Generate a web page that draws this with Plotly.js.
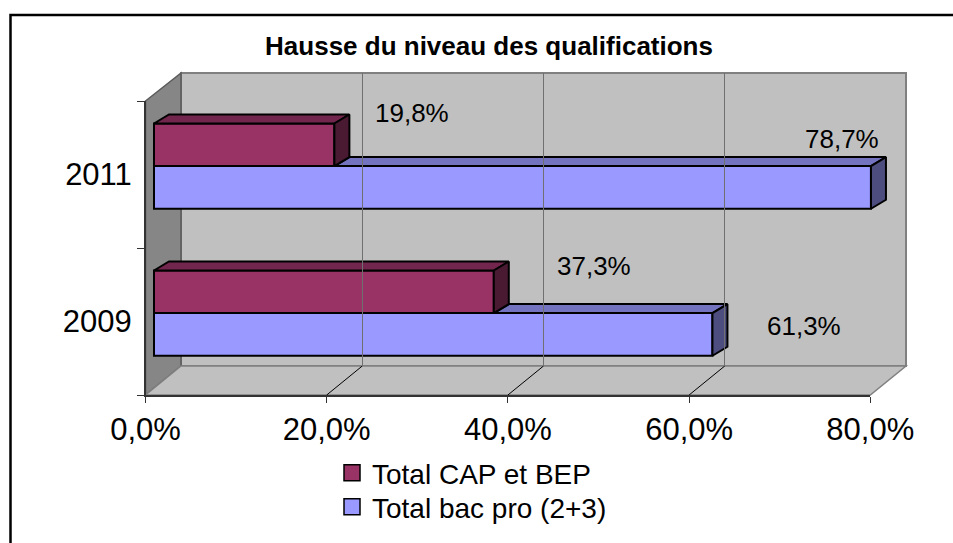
<!DOCTYPE html>
<html>
<head>
<meta charset="utf-8">
<script src="https://cdn.plot.ly/plotly-3.0.1.min.js"></script>
<style>html,body{margin:0;padding:0;background:#fff;}#chart{width:953px;height:543px;}</style>
</head>
<body>
<div id="chart"></div>
<script>
// ---- data ----
const years = ['2011', '2009'];
const capBep = [19.8, 37.3];
const bacPro = [78.7, 61.3];
const seriesNames = ['Total CAP et BEP', 'Total bac pro (2+3)'];
const xTicks = [0, 20, 40, 60, 80];
const chartTitle = 'Hausse du niveau des qualifications';

// ---- layout constants (pixels) ----
const W = 953, H = 543;
const px = v => v / W;
const py = v => 1 - v / H;
const FONT = 'Liberation Sans, Arial, sans-serif';
const barZeroPx = 154, barScale = 9.11;      // bar plane
const frontL = 145.5, frontR = 870.3, frontB = 395, frontT = 101;
const backL = 181, backR = 906, backB = 366, backT = 73;
const catPx = (frontB - frontT) / 2;          // px per category
const bw = 0.29, offCap = -0.347, offBac = offCap + bw;
const dx = 15 / barScale, dy = -9 / catPx;    // depth of bars in axis units
const colCap = '#993366', colCapTop = '#73264d', colCapSide = '#4a1a33';
const colBac = '#9999ff', colBacTop = '#7373bf', colBacSide = '#4d4d80';
const labelPos = [[[411.5, 113.5], [593.7, 266]], [[842, 139], [804, 326]]];
const legendPos = [[332, 473], [332, 507]];

const fmt = v => v.toFixed(1).replace('.', ',') + '%';
const idx = years.map((_, i) => i);

const traces = [];
// bars (front faces)
traces.push({type: 'bar', orientation: 'h', x: capBep, y: idx, base: 0, width: bw, offset: offCap,
  marker: {color: colCap, line: {color: '#000', width: 2}}, xaxis: 'x', yaxis: 'y2',
  showlegend: false, hoverinfo: 'skip'});
traces.push({type: 'bar', orientation: 'h', x: bacPro, y: idx, base: 0, width: bw, offset: offBac,
  marker: {color: colBac, line: {color: '#000', width: 2}}, xaxis: 'x', yaxis: 'y2',
  showlegend: false, hoverinfo: 'skip'});

function poly(xs, ys, fill) {
  traces.push({type: 'scatter', mode: 'lines', x: xs.concat([xs[0]]), y: ys.concat([ys[0]]),
    fill: 'toself', fillcolor: fill, line: {color: '#000', width: 2},
    xaxis: 'x', yaxis: 'y2', showlegend: false, hoverinfo: 'skip'});
}
idx.forEach(g => {
  const c = capBep[g], b = bacPro[g];
  const tC = g + offCap, tB = g + offBac;
  poly([c, c + dx, b + dx, b], [tB, tB + dy, tB + dy, tB], colBacTop);          // bac top (visible part)
  poly([b, b + dx, b + dx, b], [tB, tB + dy, tB + bw + dy, tB + bw], colBacSide); // bac side
  poly([0, dx, c + dx, c], [tC, tC + dy, tC + dy, tC], colCapTop);              // cap top
  poly([c, c + dx, c + dx, c], [tC, tC + dy, tB + dy, tB], colCapSide);         // cap side
});

// legend entries (one legend per entry to control spacing)
[[seriesNames[0], colCap, 'legend'], [seriesNames[1], colBac, 'legend2']].forEach(([n, col, lg]) => {
  traces.push({type: 'scatter', mode: 'markers', x: [null], y: [null], name: n, legend: lg,
    marker: {symbol: 'square', size: 16, color: col, line: {color: '#000', width: 1.5}},
    xaxis: 'x', yaxis: 'y2', hoverinfo: 'skip'});
});
// anchors for axis-only subplots
traces.push({type: 'scatter', x: [], y: [], xaxis: 'x2', yaxis: 'y2', showlegend: false, hoverinfo: 'skip'});
traces.push({type: 'scatter', x: [], y: [], xaxis: 'x3', yaxis: 'y3', showlegend: false, hoverinfo: 'skip'});

const pth = pts => 'M' + pts.map(p => px(p[0]) + ',' + py(p[1])).join(' L') + ' Z';
const shapes = [];
shapes.push({type: 'rect', xref: 'paper', yref: 'paper', layer: 'below',
  x0: px(backL), x1: px(backR), y0: py(backB), y1: py(backT),
  fillcolor: '#c0c0c0', line: {color: '#808080', width: 2}});
shapes.push({type: 'path', xref: 'paper', yref: 'paper', layer: 'below',
  path: pth([[frontL, frontT], [backL, backT], [backL, backB], [frontL, frontB]]),
  fillcolor: '#868686', line: {color: '#5a5a5a', width: 1.5}});
shapes.push({type: 'path', xref: 'paper', yref: 'paper', layer: 'below',
  path: pth([[frontL, frontB], [frontR, frontB], [backR, backB], [backL, backB]]),
  fillcolor: '#c0c0c0', line: {color: '#808080', width: 1.5}});
const fScale = (frontR - frontL) / 80, bScale = (backR - backL) / 80;
xTicks.slice(1, -1).forEach(v => {
  shapes.push({type: 'line', xref: 'paper', yref: 'paper', layer: 'below',
    x0: px(frontL + fScale * v), y0: py(frontB), x1: px(backL + bScale * v), y1: py(backB),
    line: {color: '#000', width: 1}});
});
shapes.push({type: 'rect', xref: 'paper', yref: 'paper', layer: 'above',
  x0: px(10.5), y0: py(15), x1: 1.05, y1: -0.05, line: {color: '#000', width: 2.5}});

const annotations = [];
[capBep, bacPro].forEach((arr, s) => arr.forEach((v, g) => {
  annotations.push({xref: 'paper', yref: 'paper', x: px(labelPos[s][g][0]), y: py(labelPos[s][g][1]),
    xanchor: 'center', yanchor: 'middle', text: fmt(v), showarrow: false,
    font: {family: FONT, size: 26, color: '#000'}});
}));

const legendStyle = i => ({x: px(legendPos[i][0]), y: py(legendPos[i][1]), xanchor: 'left', yanchor: 'middle',
  bgcolor: 'rgba(0,0,0,0)', font: {family: FONT, size: 28, color: '#000'}, itemsizing: 'trace'});

const layout = {
  width: W, height: H,
  margin: {l: 0, r: 0, t: 0, b: 0, pad: 0},
  paper_bgcolor: '#fff', plot_bgcolor: 'rgba(0,0,0,0)',
  font: {family: FONT, color: '#000'},
  title: {text: chartTitle, font: {family: FONT, size: 26, color: '#000', weight: 'bold'},
    x: px(489), y: py(46), xanchor: 'center', yanchor: 'middle', xref: 'paper', yref: 'paper'},
  barmode: 'overlay',
  showlegend: true,
  legend: legendStyle(0),
  legend2: legendStyle(1),
  xaxis: {domain: [0, 1], range: [-barZeroPx / barScale, (W - barZeroPx) / barScale], anchor: 'y2',
    visible: false, fixedrange: true},
  xaxis2: {domain: [px(frontL), px(frontR)], range: [0, 80], anchor: 'y2',
    tickmode: 'array', tickvals: xTicks, ticktext: xTicks.map(fmt),
    ticks: 'outside', ticklen: 6, tickcolor: '#333', tickwidth: 1,
    showline: true, linecolor: '#333', linewidth: 1.5, showgrid: false, zeroline: false,
    tickfont: {family: FONT, size: 31, color: '#000'}, fixedrange: true},
  yaxis2: {domain: [py(frontB), py(frontT)], range: [1.5, -0.5], anchor: 'x2',
    tickmode: 'array', tickvals: idx, ticktext: years, ticks: '',
    minor: {tick0: 0.5, dtick: 1, ticks: 'outside', ticklen: 7, tickcolor: '#333', showgrid: false},
    ticklabelstandoff: 6,
    showline: true, linecolor: '#333', linewidth: 1.5, showgrid: false, zeroline: false,
    tickfont: {family: FONT, size: 31, color: '#000'}, fixedrange: true},
  xaxis3: {domain: [px(backL), px(backR)], range: [0, 80], anchor: 'y3',
    tickmode: 'array', tickvals: xTicks, showticklabels: false, ticks: '',
    showgrid: true, gridcolor: '#707070', gridwidth: 1, zeroline: false, showline: false, fixedrange: true},
  yaxis3: {domain: [py(backB), py(backT)], range: [0, 1], anchor: 'x3',
    showticklabels: false, ticks: '', showgrid: false, zeroline: false, showline: false, fixedrange: true},
  shapes: shapes,
  annotations: annotations
};

Plotly.newPlot('chart', traces, layout, {displayModeBar: false, staticPlot: true});
</script>
</body>
</html>
